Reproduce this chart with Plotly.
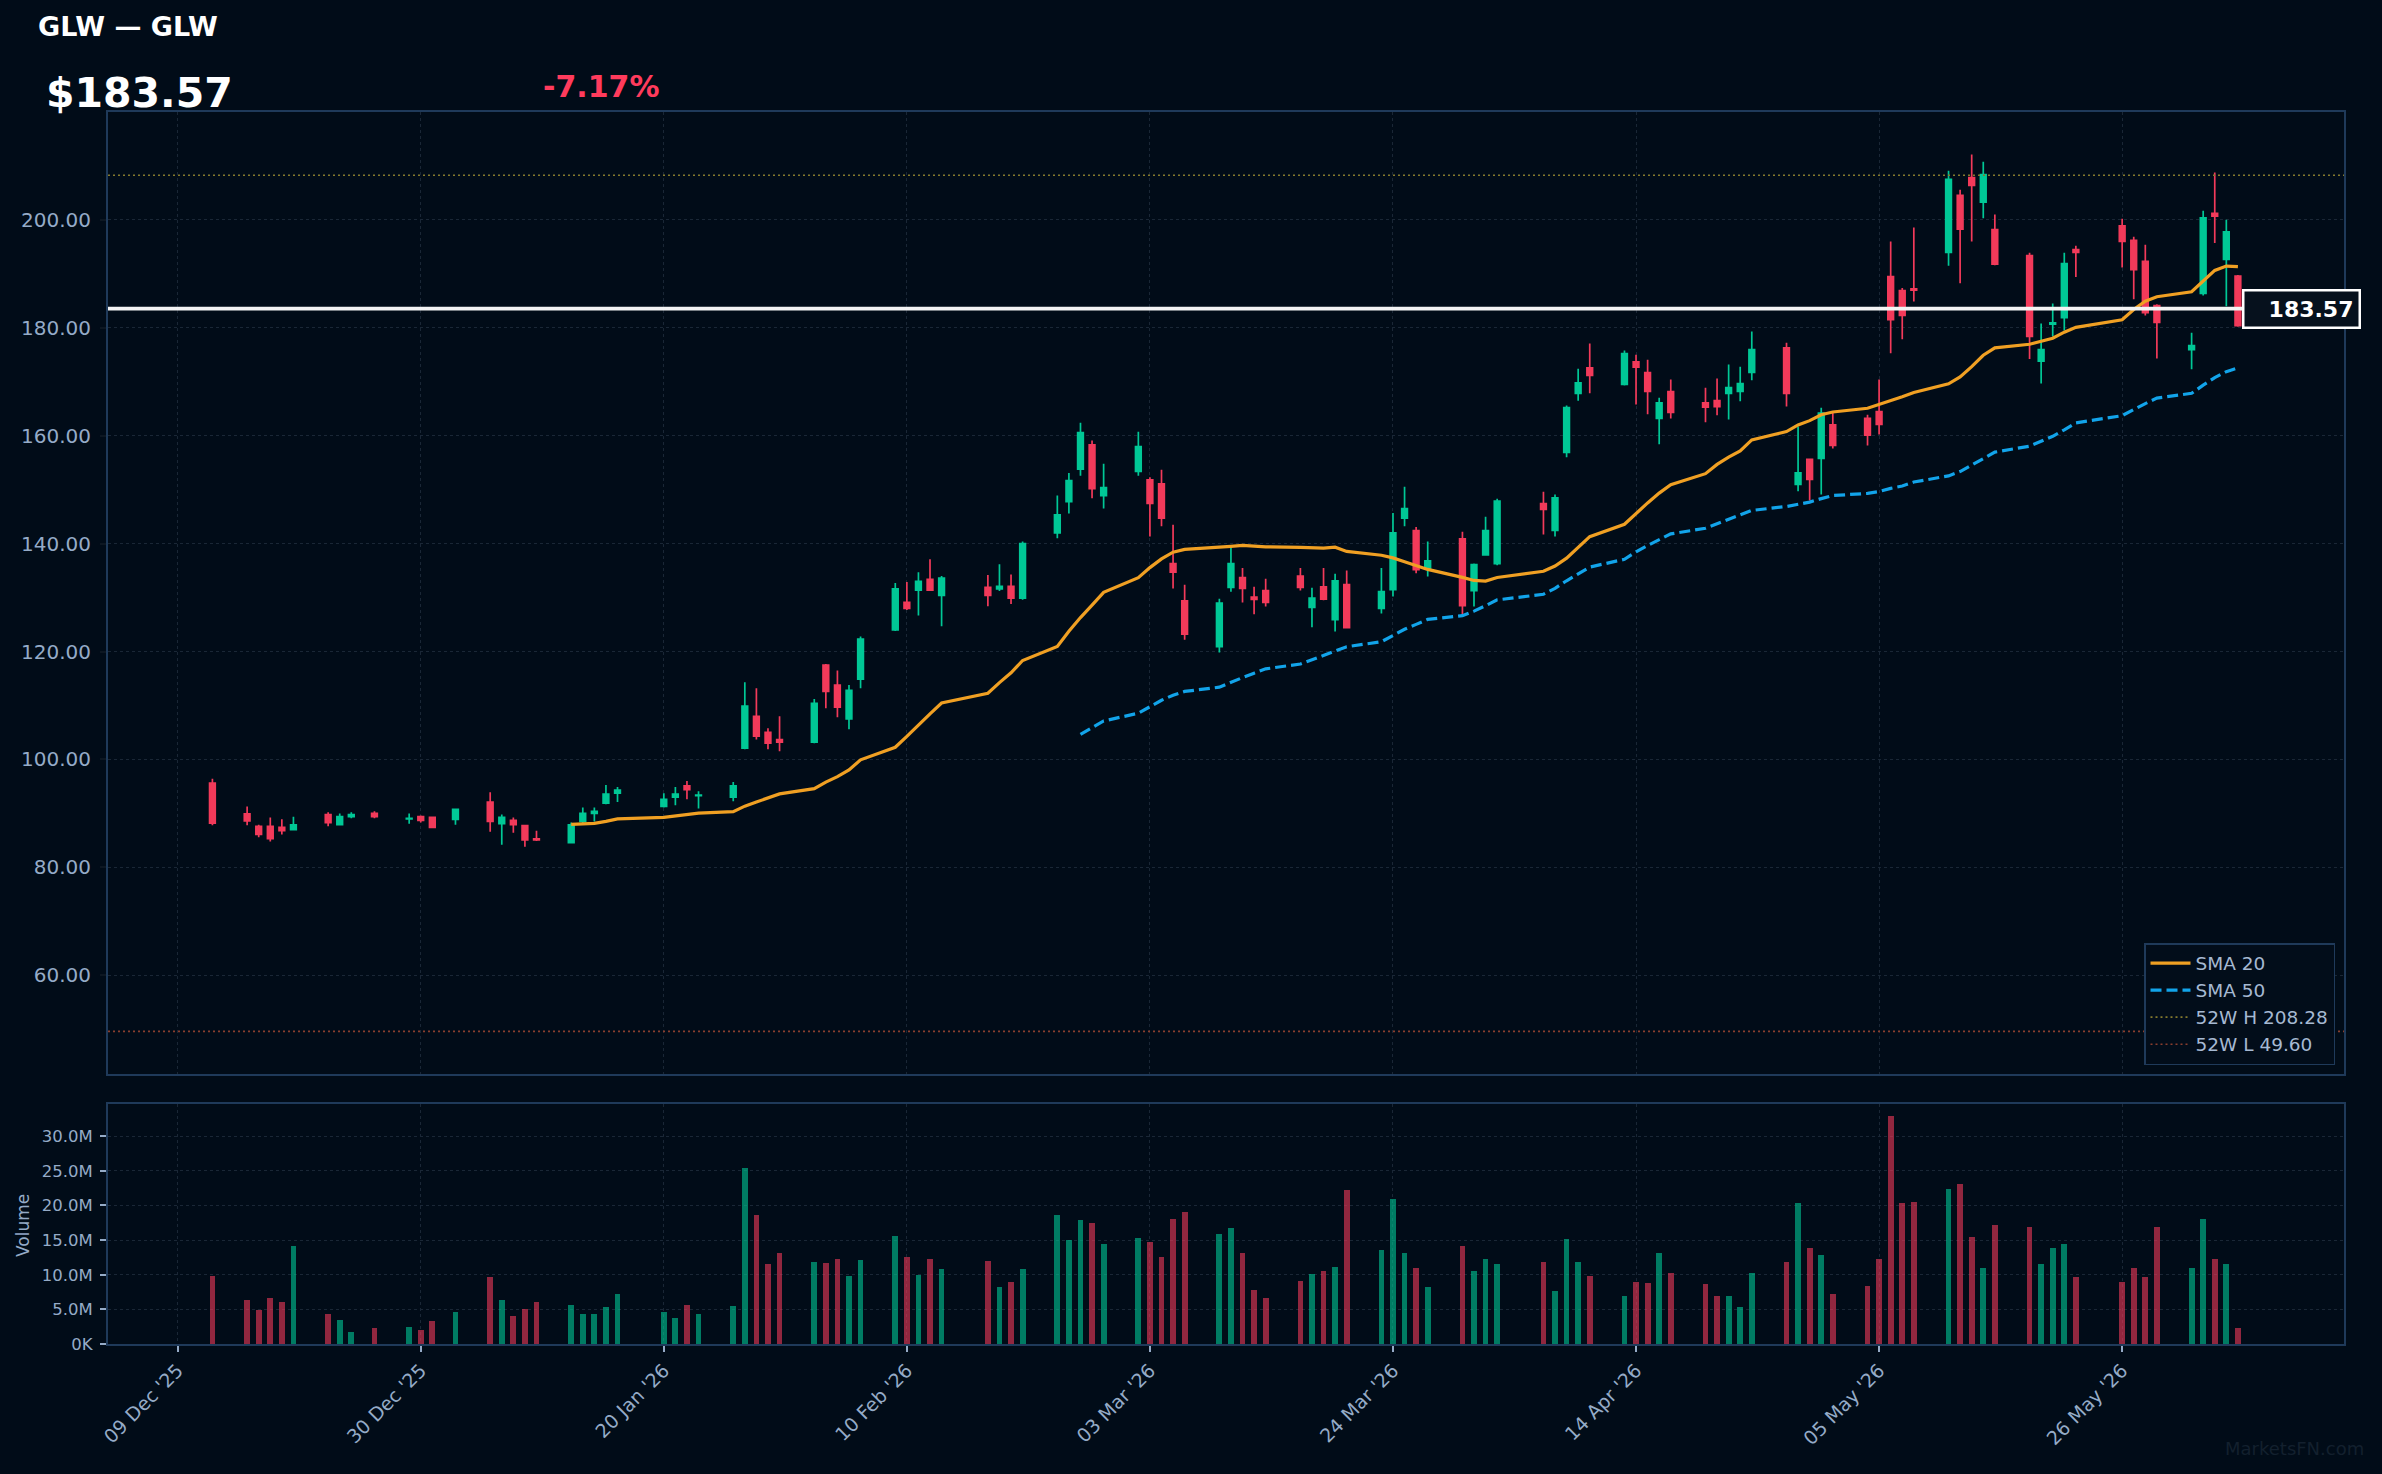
import plotly.graph_objects as go
import pandas as pd

# ---------------- data ----------------
DATES = [
    "2025-12-12", "2025-12-15", "2025-12-16", "2025-12-17", "2025-12-18", "2025-12-19",
    "2025-12-22", "2025-12-23", "2025-12-24", "2025-12-26",
    "2025-12-29", "2025-12-30", "2025-12-31", "2026-01-02",
    "2026-01-05", "2026-01-06", "2026-01-07", "2026-01-08", "2026-01-09",
    "2026-01-12", "2026-01-13", "2026-01-14", "2026-01-15", "2026-01-16",
    "2026-01-20", "2026-01-21", "2026-01-22", "2026-01-23",
    "2026-01-26", "2026-01-27", "2026-01-28", "2026-01-29", "2026-01-30",
    "2026-02-02", "2026-02-03", "2026-02-04", "2026-02-05", "2026-02-06",
    "2026-02-09", "2026-02-10", "2026-02-11", "2026-02-12", "2026-02-13",
    "2026-02-17", "2026-02-18", "2026-02-19", "2026-02-20",
    "2026-02-23", "2026-02-24", "2026-02-25", "2026-02-26", "2026-02-27",
    "2026-03-02", "2026-03-03", "2026-03-04", "2026-03-05", "2026-03-06",
    "2026-03-09", "2026-03-10", "2026-03-11", "2026-03-12", "2026-03-13",
    "2026-03-16", "2026-03-17", "2026-03-18", "2026-03-19", "2026-03-20",
    "2026-03-23", "2026-03-24", "2026-03-25", "2026-03-26", "2026-03-27",
    "2026-03-30", "2026-03-31", "2026-04-01", "2026-04-02",
    "2026-04-06", "2026-04-07", "2026-04-08", "2026-04-09", "2026-04-10",
    "2026-04-13", "2026-04-14", "2026-04-15", "2026-04-16", "2026-04-17",
    "2026-04-20", "2026-04-21", "2026-04-22", "2026-04-23", "2026-04-24",
    "2026-04-27", "2026-04-28", "2026-04-29", "2026-04-30", "2026-05-01",
    "2026-05-04", "2026-05-05", "2026-05-06", "2026-05-07", "2026-05-08",
    "2026-05-11", "2026-05-12", "2026-05-13", "2026-05-14", "2026-05-15",
    "2026-05-18", "2026-05-19", "2026-05-20", "2026-05-21", "2026-05-22",
    "2026-05-26", "2026-05-27", "2026-05-28", "2026-05-29",
    "2026-06-01", "2026-06-02", "2026-06-03", "2026-06-04", "2026-06-05",
]
OPEN = [
    95.6, 89.9, 87.6, 87.6, 87.4, 87.0,
    89.8, 87.9, 89.4, 90.0,
    89.0, 89.4, 89.25, 88.9,
    92.1, 88.1, 88.7, 87.75, 85.3,
    84.6, 88.5, 90.0, 91.9, 93.75,
    91.3, 93.0, 95.1, 93.3,
    93.0, 102.1, 108.0, 105.0, 103.7,
    103.2, 117.5, 113.8, 107.5, 114.9,
    124.0, 129.1, 131.4, 133.4, 130.4,
    131.9, 131.6, 132.1, 129.9,
    142.0, 147.8, 153.8, 158.3, 148.9,
    153.4, 151.8, 151.1, 136.3, 129.4,
    120.9, 131.9, 133.7, 130.1, 131.3,
    134.0, 128.2, 132.0, 125.9, 132.4,
    128.0, 131.45, 144.7, 142.4, 135.3,
    140.9, 131.3, 137.9, 136.3,
    147.4, 142.45, 156.9, 167.85, 172.6,
    169.5, 173.7, 171.7, 163.2, 168.2,
    166.1, 166.5, 167.85, 168.2, 171.75,
    176.3, 151.0, 155.6, 155.8, 162.0,
    163.2, 164.45, 189.5, 186.9, 187.2,
    194.0, 204.55, 207.85, 203.3, 198.2,
    193.4, 173.8, 180.7, 181.9, 194.5,
    198.9, 196.2, 192.3, 184.1,
    175.95, 186.4, 201.2, 192.7, 189.6,
]
HIGH = [
    96.4, 91.3, 87.9, 89.25, 88.9, 89.4,
    90.2, 90.0, 90.2, 90.4,
    90.0, 89.6, 89.4, 90.9,
    93.9, 89.8, 89.25, 87.9, 86.8,
    88.3, 91.1, 91.1, 95.25, 94.9,
    93.75, 94.9, 96.0, 94.1,
    95.8, 114.3, 113.2, 105.8, 108.0,
    111.2, 117.7, 116.5, 113.8, 122.8,
    132.7, 132.9, 134.7, 137.1, 134.0,
    134.2, 136.2, 134.3, 140.4,
    148.9, 153.1, 162.4, 159.1, 154.8,
    160.75, 152.3, 153.7, 143.5, 132.4,
    129.8, 139.3, 135.5, 132.0, 133.5,
    135.5, 131.8, 135.5, 134.4, 135.0,
    135.5, 145.7, 150.55, 143.1, 140.4,
    142.2, 136.3, 145.0, 148.3,
    149.6, 149.1, 165.6, 172.4, 177.1,
    175.8, 175.0, 174.1, 167.05, 170.4,
    168.9, 170.6, 173.2, 172.8, 179.3,
    177.25, 161.7, 155.7, 165.2, 164.2,
    163.9, 170.4, 196.0, 187.4, 198.6,
    209.1, 205.6, 212.1, 210.8, 201.0,
    193.9, 180.8, 184.5, 193.9, 195.2,
    200.2, 196.9, 195.4, 184.35,
    179.1, 201.7, 208.8, 200.05, 189.8,
]
LOW = [
    87.8, 87.8, 85.6, 84.8, 86.1, 86.9,
    87.6, 87.75, 89.1, 89.1,
    88.1, 88.3, 87.3, 87.9,
    86.6, 84.2, 86.4, 83.8, 84.9,
    84.4, 88.1, 88.5, 91.7, 92.1,
    91.1, 91.5, 92.6, 90.9,
    92.25, 101.9, 103.7, 101.9, 101.5,
    103.0, 109.5, 107.8, 105.6, 113.2,
    123.8, 127.7, 126.7, 131.2, 124.7,
    128.4, 131.2, 128.8, 129.6,
    141.0, 145.6, 152.6, 148.4, 146.5,
    152.6, 141.3, 143.2, 131.7, 122.2,
    119.8, 131.1, 129.1, 126.9, 128.35,
    131.3, 124.5, 129.5, 123.7, 124.3,
    127.05, 130.2, 143.2, 134.5, 133.9,
    126.5, 128.35, 137.8, 136.0,
    141.7, 141.3, 156.0, 166.5, 167.85,
    169.3, 165.8, 164.0, 158.4, 163.2,
    162.5, 163.8, 163.0, 166.4, 170.3,
    165.4, 149.7, 148.0, 149.1, 157.65,
    158.2, 160.25, 175.3, 177.9, 184.9,
    191.5, 188.25, 196.0, 200.3, 191.6,
    174.2, 169.7, 178.4, 179.5, 189.4,
    191.2, 185.3, 182.3, 174.3,
    172.3, 186.0, 195.7, 184.0, 180.2,
]
CLOSE = [
    88.2, 88.6, 86.1, 85.3, 86.8, 87.9,
    88.3, 89.4, 89.8, 89.4,
    89.1, 88.7, 87.4, 90.75,
    88.5, 89.25, 87.9, 85.1, 85.1,
    87.9, 90.0, 90.4, 93.6, 94.3,
    92.6, 93.6, 94.4, 93.4,
    95.1, 109.9, 104.3, 103.0, 103.2,
    110.4, 112.6, 109.7, 112.8, 122.3,
    131.6, 128.0, 133.0, 131.4, 133.6,
    130.4, 132.1, 129.9, 140.0,
    145.35, 151.7, 160.6, 150.2, 150.4,
    158.0, 147.45, 144.7, 134.7, 123.2,
    129.0, 136.3, 131.7, 129.65, 129.1,
    131.9, 129.9, 129.7, 133.1, 124.45,
    131.1, 142.0, 146.5, 135.2, 136.8,
    128.5, 136.1, 142.4, 147.9,
    146.35, 148.5, 165.2, 169.8, 171.2,
    175.2, 172.7, 168.2, 166.1, 164.3,
    165.3, 165.4, 168.9, 169.65, 175.95,
    167.85, 153.1, 151.9, 164.2, 158.2,
    160.1, 162.1, 181.5, 182.3, 187.0,
    207.5, 198.3, 206.4, 208.4, 191.8,
    178.4, 175.95, 180.9, 191.9, 194.0,
    196.0, 190.8, 182.8, 181.0,
    176.7, 200.4, 200.7, 197.8, 180.4,
]
VOLUME_M = [
    9.8, 6.3, 4.85, 6.7, 6.0, 14.2,
    4.3, 3.4, 1.7, 2.3,
    2.5, 2.0, 3.3, 4.6,
    9.7, 6.3, 4.0, 5.1, 6.1,
    5.6, 4.3, 4.4, 5.4, 7.2,
    4.6, 3.8, 5.7, 4.3,
    5.5, 25.4, 18.6, 11.5, 13.2,
    11.8, 11.7, 12.3, 9.8, 12.1,
    15.6, 12.6, 9.9, 12.2, 10.8,
    12.0, 8.2, 9.0, 10.8,
    18.6, 15.0, 17.9, 17.4, 14.4,
    15.3, 14.7, 12.5, 18.1, 19.0,
    15.9, 16.7, 13.2, 7.8, 6.6,
    9.1, 10.1, 10.6, 11.1, 22.2,
    13.5, 21.0, 13.2, 11.0, 8.2,
    14.2, 10.6, 12.2, 11.5,
    11.8, 7.6, 15.1, 11.8, 9.8,
    7.0, 9.0, 8.8, 13.1, 10.2,
    8.6, 6.9, 7.0, 5.4, 10.2,
    11.8, 20.4, 13.8, 12.9, 7.2,
    8.4, 12.3, 32.9, 20.3, 20.5,
    22.4, 23.1, 15.5, 10.9, 17.2,
    16.9, 11.5, 13.8, 14.4, 9.6,
    9.0, 11.0, 9.7, 16.9,
    10.9, 18.1, 12.3, 11.5, 2.3,
]

TICKER = "GLW"
CURRENT_PRICE = 183.57
CHANGE_PCT = -7.17
HIGH_52W = 208.28
LOW_52W = 49.60

X_RANGE = ["2025-12-02 23:30", "2026-06-14 04:00"]
X_TICKS = ["2025-12-09", "2025-12-30", "2026-01-20", "2026-02-10", "2026-03-03",
           "2026-03-24", "2026-04-14", "2026-05-05", "2026-05-26"]
X_TICK_LABELS = ["09 Dec '25", "30 Dec '25", "20 Jan '26", "10 Feb '26", "03 Mar '26",
                 "24 Mar '26", "14 Apr '26", "05 May '26", "26 May '26"]
PRICE_RANGE = [41.7, 220.0]
PRICE_TICKS = [60, 80, 100, 120, 140, 160, 180, 200]
VOL_RANGE_M = [0, 34.64]
VOL_TICKS_M = [0, 5, 10, 15, 20, 25, 30]
VOL_TICK_LABELS = ["0K", "5.0M", "10.0M", "15.0M", "20.0M", "25.0M", "30.0M"]

# ---------------- style ----------------
BG = "#010c18"
GRID = "#1a2736"
BORDER = "#1f3a5a"
TICK_COLOR = "#95abc7"
UP = "#00c896"
DOWN = "#f23a5a"
UP_VOL = "rgba(0,200,150,0.6)"
DOWN_VOL = "rgba(242,58,90,0.6)"
FONT = "DejaVu Sans"

W, H = 2382, 1474
ML, MR, MT, MB = 108, 38, 112, 130
PW, PH = W - ML - MR, H - MT - MB


def px_x(px):
    return (px - ML) / PW


def px_y(py):
    return (H - MB - py) / PH


close_s = pd.Series(CLOSE)
sma20 = close_s.rolling(20).mean()
sma50 = close_s.rolling(50).mean()

fig = go.Figure()

fig.add_trace(go.Candlestick(
    x=DATES, open=OPEN, high=HIGH, low=LOW, close=CLOSE,
    increasing=dict(line=dict(color=UP, width=1.7), fillcolor=UP),
    decreasing=dict(line=dict(color=DOWN, width=1.7), fillcolor=DOWN),
    showlegend=False, xaxis="x", yaxis="y", name=TICKER,
))

fig.add_trace(go.Scatter(
    x=DATES, y=sma20, mode="lines", name="SMA 20",
    line=dict(color="#f0a023", width=3.2), xaxis="x", yaxis="y",
))
fig.add_trace(go.Scatter(
    x=DATES, y=sma50, mode="lines", name="SMA 50",
    line=dict(color="#12a4ea", width=3.2, dash="11px,5px"), xaxis="x", yaxis="y",
))
fig.add_trace(go.Scatter(
    x=X_RANGE, y=[HIGH_52W, HIGH_52W], mode="lines", name=f"52W H {HIGH_52W:.2f}",
    line=dict(color="#857a2e", width=1.6, dash="2px,3px"), xaxis="x", yaxis="y",
))
fig.add_trace(go.Scatter(
    x=X_RANGE, y=[LOW_52W, LOW_52W], mode="lines", name=f"52W L {LOW_52W:.2f}",
    line=dict(color="#8a3e2e", width=1.6, dash="2px,3px"), xaxis="x", yaxis="y",
))

vol_colors = [UP_VOL if c >= o else DOWN_VOL for o, c in zip(OPEN, CLOSE)]
fig.add_trace(go.Bar(
    x=DATES, y=[v * 1e6 for v in VOLUME_M], marker=dict(color=vol_colors, line=dict(width=0)),
    width=0.5 * 86400000, showlegend=False, xaxis="x2", yaxis="y2", name="Volume",
))

# current price line
fig.add_shape(type="line", xref="x domain", yref="y", x0=0, x1=1,
              y0=CURRENT_PRICE, y1=CURRENT_PRICE,
              line=dict(color="#f4f4f4", width=3.8), layer="above")

axis_common = dict(
    showgrid=True, gridcolor=GRID, griddash="dot", gridwidth=1,
    showline=True, linecolor=BORDER, linewidth=2, mirror=True,
    zeroline=False,
)

fig.update_layout(
    width=W, height=H,
    paper_bgcolor=BG, plot_bgcolor=BG,
    margin=dict(l=ML, r=MR, t=MT, b=MB),
    font=dict(family=FONT, color=TICK_COLOR),
    showlegend=True,
    bargap=0,
    xaxis=dict(
        **axis_common, type="date", range=X_RANGE, domain=[0, 1], anchor="y",
        tickvals=X_TICKS, showticklabels=False, ticks="",
        rangeslider=dict(visible=False),
    ),
    yaxis=dict(
        **axis_common, domain=[px_y(1074), 1], range=PRICE_RANGE, anchor="x",
        tickvals=PRICE_TICKS, ticktext=[f"{v:.2f}" for v in PRICE_TICKS],
        ticks="outside", ticklen=6, tickwidth=1.5, tickcolor="#0d1722",
        ticklabelstandoff=5,
        tickfont=dict(size=20, color=TICK_COLOR, family=FONT),
    ),
    xaxis2=dict(
        **axis_common, type="date", range=X_RANGE, domain=[0, 1], anchor="y2",
        matches="x",
        tickvals=X_TICKS, ticktext=X_TICK_LABELS, tickangle=-45,
        ticks="outside", ticklen=6, tickwidth=1.5, tickcolor=TICK_COLOR,
        tickfont=dict(size=19, color=TICK_COLOR, family=FONT),
    ),
    yaxis2=dict(
        **axis_common, domain=[0, px_y(1104)], range=[v * 1e6 for v in VOL_RANGE_M],
        anchor="x2",
        tickvals=[v * 1e6 for v in VOL_TICKS_M], ticktext=VOL_TICK_LABELS,
        ticks="outside", ticklen=6, tickwidth=1.5, tickcolor=TICK_COLOR,
        ticklabelstandoff=4,
        tickfont=dict(size=16.5, color=TICK_COLOR, family=FONT),
    ),
    legend=dict(
        x=px_x(2335), xanchor="right", y=px_y(1065), yanchor="bottom",
        bgcolor="#020d1a", bordercolor=BORDER, borderwidth=1.5,
        font=dict(size=18.5, color="#a6b9d2", family=FONT),
        itemwidth=40, tracegroupgap=0,
    ),
)

annotations = [
    dict(text=f"<b>{TICKER} — {TICKER}</b>", x=px_x(36), y=px_y(27), xref="paper", yref="paper",
         xanchor="left", yanchor="middle", showarrow=False,
         font=dict(size=27, color="#ffffff", family=FONT)),
    dict(text=f"<b>${CURRENT_PRICE:.2f}</b>", x=px_x(44), y=px_y(93), xref="paper", yref="paper",
         xanchor="left", yanchor="middle", showarrow=False,
         font=dict(size=41, color="#ffffff", family=FONT)),
    dict(text=f"<b>{CHANGE_PCT:.2f}%</b>", x=px_x(541), y=px_y(87), xref="paper", yref="paper",
         xanchor="left", yanchor="middle", showarrow=False,
         font=dict(size=30, color="#ff3b5c", family=FONT)),
    dict(text=f"<b>{CURRENT_PRICE:.2f}</b>", x=px_x(2242), y=CURRENT_PRICE, xref="paper", yref="y",
         xanchor="left", yanchor="middle", showarrow=False, align="right", width=104,
         bgcolor="#06111d", bordercolor="#ffffff", borderwidth=2.5, borderpad=5,
         font=dict(size=22, color="#ffffff", family=FONT)),
    dict(text="Volume", x=px_x(23), y=px_y(1226), xref="paper", yref="paper",
         xanchor="center", yanchor="middle", showarrow=False, textangle=-90,
         font=dict(size=17, color=TICK_COLOR, family=FONT)),
    dict(text="MarketsFN.com", x=px_x(2366), y=px_y(1448), xref="paper", yref="paper",
         xanchor="right", yanchor="middle", showarrow=False,
         font=dict(size=18, color="#13202e", family=FONT)),
]
fig.update_layout(annotations=annotations)

fig.write_html("out.html")
